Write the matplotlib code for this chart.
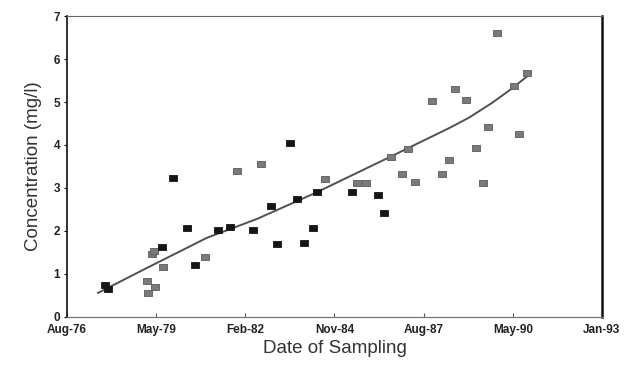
import numpy as np
import matplotlib.pyplot as plt
from matplotlib.path import Path

plt.rcParams['font.family'] = ['Liberation Sans', 'DejaVu Sans']

# sampling dates (decimal years) and concentrations (mg/l)
dark_dates = [1977.81, 1977.91, 1979.90, 1980.33, 1979.56, 1980.58, 1981.28, 1981.65,
              1982.36, 1982.91, 1983.09, 1983.49, 1983.71, 1983.92, 1984.20, 1984.32,
              1985.40, 1986.19, 1986.38]
dark_conc = [0.74, 0.65, 3.23, 2.07, 1.63, 1.21, 2.02, 2.09,
             2.02, 2.58, 1.70, 4.05, 2.74, 1.72, 2.07, 2.91,
             2.91, 2.84, 2.42]

gray_dates = [1979.10, 1979.13, 1979.35, 1979.26, 1979.32, 1979.59, 1980.88, 1981.87,
              1982.60, 1984.57, 1985.55, 1985.83, 1986.59, 1986.93, 1987.12, 1987.33,
              1987.85, 1988.16, 1988.37, 1988.56, 1988.90, 1989.20, 1989.42, 1989.57,
              1989.85, 1990.37, 1990.52, 1990.77]
gray_conc = [0.84, 0.56, 0.70, 1.47, 1.54, 1.16, 1.40, 3.40,
             3.56, 3.21, 3.12, 3.12, 3.72, 3.33, 3.91, 3.14,
             5.02, 3.33, 3.65, 5.30, 5.05, 3.93, 3.12, 4.42,
             6.60, 5.37, 4.26, 5.67]

# smoothed trend curve
trend_dates = [1977.60, 1979.10, 1980.94, 1982.48, 1984.26, 1986.56, 1988.40,
               1989.00, 1989.70, 1990.34, 1990.86]
trend_conc = [0.56, 1.14, 1.84, 2.28, 2.88, 3.72, 4.40, 4.64, 4.98, 5.33, 5.65]

tick_labels = ['Aug-76', 'May-79', 'Feb-82', 'Nov-84', 'Aug-87', 'May-90', 'Jan-93']
tick_pos = [1976.647 + k * 1000 / 365.25 for k in range(len(tick_labels))]

rect = Path([(-1.5, -1), (1.5, -1), (1.5, 1), (-1.5, 1), (-1.5, -1)],
            [Path.MOVETO, Path.LINETO, Path.LINETO, Path.LINETO, Path.CLOSEPOLY])

fig = plt.figure(figsize=(6.29, 3.69), dpi=100)
ax = fig.add_axes([0.1065, 0.141, 0.8505, 0.8156])

ax.plot(trend_dates, trend_conc, color='#505050', lw=1.4, zorder=2)
ax.scatter(gray_dates, gray_conc, marker=rect, s=30, color='#7a7a7a',
           edgecolors='#5a5a5a', linewidths=0.6, zorder=3)
ax.scatter(dark_dates, dark_conc, marker=rect, s=30, color='#151515',
           edgecolors='#151515', linewidths=0.6, zorder=3)

ax.set_xlim(tick_pos[0], tick_pos[-1])
ax.set_ylim(0, 7)
ax.set_xticks(tick_pos)
ax.set_xticklabels(tick_labels, fontsize=8.5, fontweight='bold', color='#222222')
ax.set_yticks(range(8))
ax.set_yticklabels([str(v) for v in range(8)], fontsize=8.5, fontweight='bold',
                   color='#222222')
ax.tick_params(axis='x', direction='in', length=3, width=0.8, pad=5, colors='#555555',
               labelcolor='#222222')
ax.tick_params(axis='y', direction='out', length=2, width=0.8, pad=3)

ax.spines['left'].set_linewidth(1.2)
ax.spines['left'].set_color('#111111')
ax.spines['right'].set_linewidth(1.8)
ax.spines['right'].set_color('#111111')
ax.spines['top'].set_linewidth(0.8)
ax.spines['top'].set_color('#666666')
ax.spines['bottom'].set_linewidth(0.9)
ax.spines['bottom'].set_color('#777777')

ax.set_xlabel('Date of Sampling', fontsize=13.5, color='#333333', labelpad=3)
ax.set_ylabel('Concentration (mg/l)', fontsize=13.5, color='#333333', labelpad=8)

fig.savefig('out.png', dpi=100)
